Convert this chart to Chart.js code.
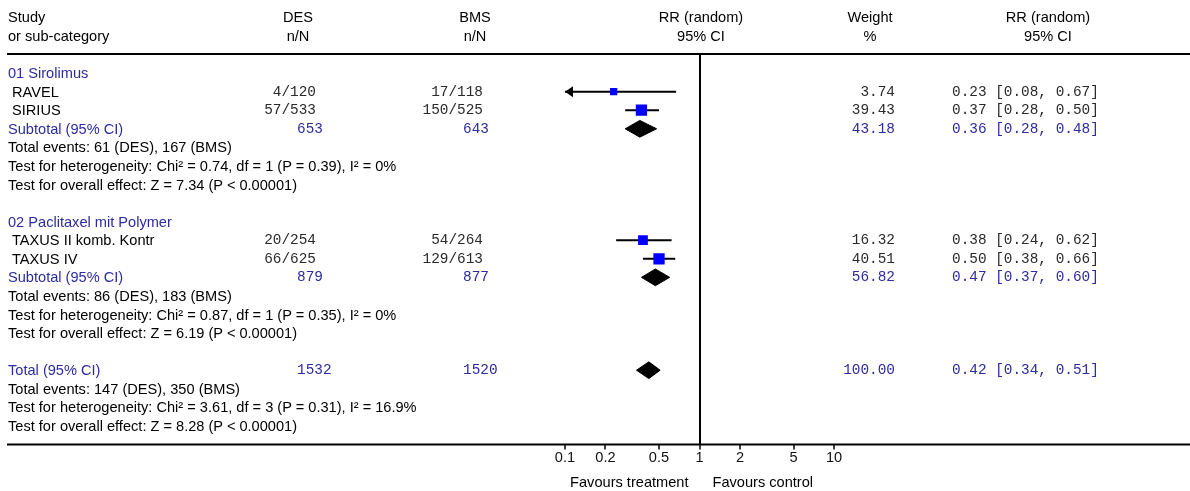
<!DOCTYPE html>
<html>
<head>
<meta charset="utf-8">
<title>Forest plot DES vs BMS</title>
<script src="https://cdn.jsdelivr.net/npm/chart.js@4.4.1/dist/chart.umd.min.js"></script>
<style>
    html, body { margin: 0; padding: 0; background: #fff; }
    #wrap { position: relative; width: 1190px; height: 491px; overflow: hidden; }
    #plot { position: absolute; left: 0; top: 0; }
    #labels {
        position: absolute; left: 0; top: 0; width: 1190px; height: 491px;
        font-family: 'Liberation Sans', Arial, sans-serif; font-size: 14.6px; color: #000;
    }
    .t { position: absolute; white-space: pre; line-height: 18px; }
    .mono { font-family: 'Liberation Mono', 'Courier New', monospace; font-size: 14.4px; color: #2a2a2a; }
    .blue { color: #2b2ba3; }
</style>
</head>
<body>
<div id="wrap">
    <canvas id="plot" width="1190" height="491"></canvas>
    <div id="labels"></div>
</div>
<script>
// Rows of the table, top to bottom (one row = one step of the y scale)
const rowLabels = [
    '01 Sirolimus',
    'RAVEL',
    'SIRIUS',
    'Subtotal (95% CI)',
    'Total events: 61 (DES), 167 (BMS)',
    'Test for heterogeneity: Chi\u00b2 = 0.74, df = 1 (P = 0.39), I\u00b2 = 0%',
    'Test for overall effect: Z = 7.34 (P < 0.00001)',
    '',
    '02 Paclitaxel mit Polymer',
    'TAXUS II komb. Kontr',
    'TAXUS IV',
    'Subtotal (95% CI)',
    'Total events: 86 (DES), 183 (BMS)',
    'Test for heterogeneity: Chi\u00b2 = 0.87, df = 1 (P = 0.35), I\u00b2 = 0%',
    'Test for overall effect: Z = 6.19 (P < 0.00001)',
    '',
    'Total (95% CI)',
    'Total events: 147 (DES), 350 (BMS)',
    'Test for heterogeneity: Chi\u00b2 = 3.61, df = 3 (P = 0.31), I\u00b2 = 16.9%',
    'Test for overall effect: Z = 8.28 (P < 0.00001)'
];
const rowKinds = [
    'group', 'study', 'study', 'pooled', 'note', 'note', 'note', 'blank',
    'group', 'study', 'study', 'pooled', 'note', 'note', 'note', 'blank',
    'pooled', 'note', 'note', 'note'
];

// single studies (in row order)
const studyDES = ['4/120', '57/533', '20/254', '66/625'];
const studyBMS = ['17/118', '150/525', '54/264', '129/613'];
const studyWeight = [3.74, 39.43, 16.32, 40.51];
const studyRR = [0.23, 0.37, 0.38, 0.50];
const studyLow = [0.08, 0.28, 0.24, 0.38];
const studyHigh = [0.67, 0.50, 0.62, 0.66];

// subtotals and total (in row order)
const pooledDES = [653, 879, 1532];
const pooledBMS = [643, 877, 1520];
const pooledWeight = [43.18, 56.82, 100.00];
const pooledRR = [0.36, 0.47, 0.42];
const pooledLow = [0.28, 0.37, 0.34];
const pooledHigh = [0.48, 0.60, 0.51];

const xTicks = [0.1, 0.2, 0.5, 1, 2, 5, 10];

const DIAMOND_HALF = 0.45;   // half height of a diamond, in rows

class ForestPlot {
    constructor() {
        this.studyRows = this.rowsOf(k => k === 'study');
        this.pooledRows = this.rowsOf(k => k === 'pooled');
        this.init();
    }

    rowsOf(test) {
        const rows = [];
        rowKinds.forEach((k, i) => { if (test(k)) rows.push(i); });
        return rows;
    }

    init() {
        this.drawChart();
        this.renderLabels();
    }

    squareRadius(w) {
        // side of the square grows with the weight
        const side = 5 + 1.7 * Math.log(w);
        return side / 2 / Math.SQRT1_2;
    }

    drawChart() {
        const squares = {
            type: 'scatter',
            data: studyRR.map((rr, i) => ({ x: rr, y: this.studyRows[i] })),
            pointStyle: 'rect',
            pointRadius: studyWeight.map(w => this.squareRadius(w)),
            backgroundColor: '#0000ff',
            borderWidth: 0
        };

        const ciLines = studyRR.map((rr, i) => ({
            type: 'line',
            data: [
                { x: studyLow[i], y: this.studyRows[i] },
                { x: studyHigh[i], y: this.studyRows[i] }
            ],
            borderColor: '#000',
            borderWidth: 2,
            pointRadius: 0,
            fill: false
        }));

        const diamonds = pooledRR.map((rr, i) => {
            const r = this.pooledRows[i];
            return {
                type: 'line',
                data: [
                    { x: pooledLow[i], y: r },
                    { x: rr, y: r - DIAMOND_HALF },
                    { x: pooledHigh[i], y: r },
                    { x: rr, y: r + DIAMOND_HALF },
                    { x: pooledLow[i], y: r }
                ],
                borderColor: '#000',
                backgroundColor: '#000',
                borderWidth: 1,
                pointRadius: 0,
                tension: 0,
                fill: 'shape'
            };
        });

        const separators = {
            id: 'separators',
            beforeDraw(chart) {
                const { ctx, chartArea } = chart;
                ctx.save();
                ctx.strokeStyle = '#000';
                ctx.lineWidth = 2;
                [chartArea.top - 0.5, chartArea.bottom].forEach(yy => {
                    ctx.beginPath();
                    ctx.moveTo(7, yy);
                    ctx.lineTo(chart.width, yy);
                    ctx.stroke();
                });
                ctx.restore();
            }
        };

        const studyRows = this.studyRows;
        const arrows = {
            id: 'arrows',
            afterDatasetsDraw(chart) {
                const { ctx } = chart;
                const xs = chart.scales.x, ys = chart.scales.y;
                ctx.save();
                ctx.fillStyle = '#000';
                studyLow.forEach((lo, i) => {
                    if (lo >= xs.min) return;
                    const px = xs.getPixelForValue(xs.min);
                    const py = ys.getPixelForValue(studyRows[i]);
                    ctx.beginPath();
                    ctx.moveTo(px, py);
                    ctx.lineTo(px + 8, py - 5.5);
                    ctx.lineTo(px + 8, py + 5.5);
                    ctx.closePath();
                    ctx.fill();
                });
                ctx.restore();
            }
        };

        const ctx = document.getElementById('plot').getContext('2d');
        this.chart = new Chart(ctx, {
            type: 'scatter',
            data: { datasets: [squares, ...ciLines, ...diamonds] },
            options: {
                responsive: false,
                animation: false,
                events: [],
                layout: { padding: { left: 565, right: 356, top: 54.5, bottom: 0 } },
                plugins: {
                    legend: { display: false },
                    tooltip: { enabled: false }
                },
                scales: {
                    x: {
                        type: 'logarithmic',
                        min: xTicks[0],
                        max: xTicks[xTicks.length - 1],
                        afterBuildTicks: scale => {
                            scale.ticks = xTicks.map(v => ({ value: v }));
                        },
                        afterFit: scale => { scale.height = 46.5; },
                        border: { display: false },
                        grid: {
                            drawOnChartArea: true,
                            drawTicks: true,
                            tickLength: 5,
                            lineWidth: 2,
                            tickWidth: 1.5,
                            tickColor: '#000',
                            color: c => (c.tick && c.tick.value === 1 ? '#000' : 'rgba(0,0,0,0)')
                        },
                        ticks: {
                            autoSkip: false,
                            maxRotation: 0,
                            padding: 0,
                            color: '#111',
                            font: { family: "'Liberation Sans', Arial, sans-serif", size: 14.6 },
                            callback: v => String(v)
                        }
                    },
                    y: {
                        type: 'linear',
                        reverse: true,
                        min: -1,
                        max: 20,
                        display: false
                    }
                }
            },
            plugins: [separators, arrows]
        });
    }

    addText(str, x, yPix, align, cls) {
        const el = document.createElement('div');
        el.className = 't' + (cls ? ' ' + cls : '');
        el.textContent = str;
        el.style.top = (yPix - 9) + 'px';
        if (align === 'right') {
            el.style.right = (1190 - x) + 'px';
        } else if (align === 'center') {
            el.style.left = x + 'px';
            el.style.transform = 'translateX(-50%)';
        } else {
            el.style.left = x + 'px';
        }
        document.getElementById('labels').appendChild(el);
    }

    renderLabels() {
        const ys = this.chart.scales.y;
        const xs = this.chart.scales.x;
        const rowY = r => ys.getPixelForValue(r);
        const one = xs.getPixelForValue(1);

        // header
        this.addText('Study', 8, rowY(-3), 'left');
        this.addText('or sub-category', 8, rowY(-2), 'left');
        this.addText('DES', 298, rowY(-3), 'center');
        this.addText('n/N', 298, rowY(-2), 'center');
        this.addText('BMS', 475, rowY(-3), 'center');
        this.addText('n/N', 475, rowY(-2), 'center');
        this.addText('RR (random)', one + 1.5, rowY(-3), 'center');
        this.addText('95% CI', one + 1.5, rowY(-2), 'center');
        this.addText('Weight', 870, rowY(-3), 'center');
        this.addText('%', 870, rowY(-2), 'center');
        this.addText('RR (random)', 1048, rowY(-3), 'center');
        this.addText('95% CI', 1048, rowY(-2), 'center');

        let s = 0, p = 0;
        rowLabels.forEach((label, r) => {
            const kind = rowKinds[r];
            const y = rowY(r);
            if (kind === 'group') {
                this.addText(label, 8, y, 'left', 'blue');
            } else if (kind === 'note') {
                this.addText(label, 8, y, 'left');
            } else if (kind === 'study') {
                this.addText(label, 12, y, 'left');
                this.addText(studyDES[s], 316, y, 'right', 'mono');
                this.addText(studyBMS[s], 483, y, 'right', 'mono');
                this.addText(studyWeight[s].toFixed(2), 895, y, 'right', 'mono');
                this.addText(this.ciText(studyRR[s], studyLow[s], studyHigh[s]), 952, y, 'left', 'mono');
                s++;
            } else if (kind === 'pooled') {
                this.addText(label, 8, y, 'left', 'blue');
                this.addText(String(pooledDES[p]), 297, y, 'left', 'mono blue');
                this.addText(String(pooledBMS[p]), 463, y, 'left', 'mono blue');
                this.addText(pooledWeight[p].toFixed(2), 895, y, 'right', 'mono blue');
                this.addText(this.ciText(pooledRR[p], pooledLow[p], pooledHigh[p]), 952, y, 'left', 'mono blue');
                p++;
            }
        });

        // footer
        this.addText('Favours treatment', one - 11, rowY(22), 'right');
        this.addText('Favours control', one + 13, rowY(22), 'left');
    }

    ciText(rr, lo, hi) {
        return `${rr.toFixed(2)} [${lo.toFixed(2)}, ${hi.toFixed(2)}]`;
    }
}

let plot;
document.addEventListener('DOMContentLoaded', () => {
    plot = new ForestPlot();
});
</script>
</body>
</html>
